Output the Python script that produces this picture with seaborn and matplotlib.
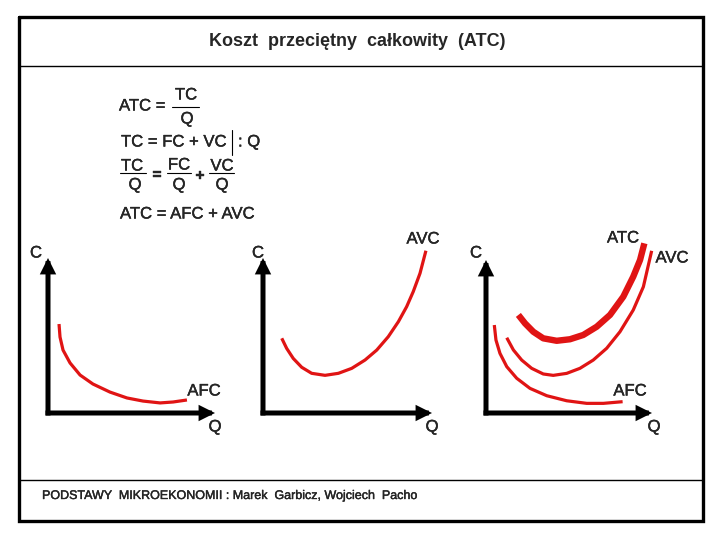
import matplotlib
matplotlib.use("Agg")
import matplotlib.pyplot as plt
import matplotlib.patheffects as pe
import seaborn as sns

sns.set_style("white")
plt.rcParams["font.family"] = ["Liberation Sans", "DejaVu Sans"]

RED = "#e01414"

# ── Curve data (Q, C), axes scaled 0..10 ─────────────────────────────────────
# panel 1: AFC alone
afc1_q = [0.66, 0.72, 0.90, 1.32, 1.92, 2.69, 3.71, 4.73, 5.69, 6.71, 7.49, 8.32]
afc1_c = [5.74, 4.90, 4.06, 3.23, 2.45, 1.87, 1.35, 0.97, 0.77, 0.65, 0.71, 0.84]

# panel 2: AVC alone
avc2_q = [1.11, 1.40, 1.79, 2.29, 2.88, 3.67, 4.46, 5.25, 6.04, 6.73, 7.41, 8.01, 8.50, 8.89, 9.29, 9.64]
avc2_c = [4.82, 4.17, 3.52, 2.95, 2.56, 2.43, 2.56, 2.88, 3.42, 4.06, 4.92, 5.89, 6.86, 7.83, 9.01, 10.47]

# panel 3: AFC, AVC and ATC together
afc3_q = [0.50, 0.60, 0.84, 1.25, 1.85, 2.65, 3.66, 4.86, 6.07, 7.07, 8.23]
afc3_c = [5.75, 4.77, 3.90, 3.03, 2.27, 1.61, 1.13, 0.80, 0.63, 0.63, 0.74]
avc3_q = [1.25, 1.65, 2.15, 2.75, 3.45, 4.05, 4.86, 5.66, 6.46, 7.27, 8.07, 8.87, 9.48, 9.98]
avc3_c = [4.92, 4.12, 3.46, 2.92, 2.55, 2.46, 2.59, 2.92, 3.46, 4.23, 5.31, 6.73, 8.25, 10.60]
atc3_q = [1.95, 2.35, 2.85, 3.45, 4.26, 5.06, 5.86, 6.67, 7.47, 8.27, 8.87, 9.28, 9.54]
atc3_c = [6.41, 5.86, 5.31, 4.88, 4.72, 4.82, 5.10, 5.64, 6.41, 7.60, 8.91, 10.00, 11.09]

fig = plt.figure(figsize=(7.2, 5.4), dpi=100)

# ── slide frame and text (pixel coordinates) ─────────────────────────────────
bg = fig.add_axes([0, 0, 1, 1])
bg.set_xlim(0, 720)
bg.set_ylim(540, 0)
bg.axis("off")

bg.plot([19, 703, 703, 19, 19], [17, 17, 521, 521, 17], color="black", lw=2.4,
        solid_joinstyle="miter")
bg.plot([19, 703], [66, 66], color="black", lw=1.0)
bg.plot([19, 703], [480, 480], color="black", lw=1.0)

heavy = [pe.withStroke(linewidth=0.25, foreground="black")]

bg.text(357, 42, "Koszt  przeciętny  całkowity  (ATC)", ha="center", va="center",
        fontsize=13, fontweight="bold")
bg.text(42, 496, "PODSTAWY  MIKROEKONOMII : Marek  Garbicz, Wojciech  Pacho",
        ha="left", va="center", fontsize=9, path_effects=heavy)

fs = 12
kw = dict(fontsize=fs, va="center", path_effects=heavy)
bg.text(119, 106, "ATC =", ha="left", **kw)
bg.text(186, 95, "TC", ha="center", **kw)
bg.plot([172, 199], [107, 107], color="black", lw=0.8)
bg.text(187, 119, "Q", ha="center", **kw)

bg.text(121, 142, "TC = FC + VC", ha="left", **kw)
bg.plot([232, 232], [130, 155], color="black", lw=0.8)
bg.text(238, 142, ": Q", ha="left", **kw)

bg.text(132, 166, "TC", ha="center", **kw)
bg.plot([120, 146], [173, 173], color="black", lw=0.8)
bg.text(135, 185, "Q", ha="center", **kw)
bg.text(157, 175, "=", ha="center", **kw)
bg.text(179, 165, "FC", ha="center", **kw)
bg.plot([167, 191], [173, 173], color="black", lw=0.8)
bg.text(179, 185, "Q", ha="center", **kw)
bg.text(200, 176, "+", ha="center", **kw)
bg.text(222, 166, "VC", ha="center", **kw)
bg.plot([209, 234], [173, 173], color="black", lw=0.8)
bg.text(222, 185, "Q", ha="center", **kw)

bg.text(120, 214, "ATC = AFC + AVC", ha="left", **kw)


def panel(ox, oy, tip_x, tip_y):
    ax = fig.add_axes([ox / 720, 1 - oy / 540, (tip_x - ox) / 720, (oy - tip_y) / 540])
    ax.set_xlim(0, 10)
    ax.set_ylim(0, 10)
    ax.axis("off")
    arrow = dict(arrowstyle="-|>", lw=3.6, color="black", mutation_scale=15,
                 shrinkA=0, shrinkB=0, capstyle="projecting", joinstyle="miter")
    ax.annotate("", xy=(10, 0), xytext=(0, 0), arrowprops=arrow)
    ax.annotate("", xy=(0, 10), xytext=(0, 0), arrowprops=arrow)
    return ax


def curve(ax, q, c, lw=2.3):
    sns.lineplot(x=q, y=c, ax=ax, color=RED, lw=lw, sort=False, estimator=None,
                 clip_on=False, solid_capstyle="butt", solid_joinstyle="round")


ax1 = panel(48, 413, 215, 258)
curve(ax1, afc1_q, afc1_c)
bg.text(36, 253, "C", ha="center", **kw)
bg.text(215, 427, "Q", ha="center", **kw)
bg.text(204, 391, "AFC", ha="center", **kw)

ax2 = panel(263, 413, 432, 258)
curve(ax2, avc2_q, avc2_c)
bg.text(258, 253, "C", ha="center", **kw)
bg.text(432, 427, "Q", ha="center", **kw)
bg.text(423, 239, "AVC", ha="center", **kw)

ax3 = panel(486, 413, 652, 260)
curve(ax3, afc3_q, afc3_c)
curve(ax3, avc3_q, avc3_c)
curve(ax3, atc3_q, atc3_c, lw=4.6)
bg.text(476, 253, "C", ha="center", **kw)
bg.text(654, 427, "Q", ha="center", **kw)
bg.text(623, 238, "ATC", ha="center", **kw)
bg.text(672, 258, "AVC", ha="center", **kw)
bg.text(630, 391, "AFC", ha="center", **kw)

fig.savefig("out.png", dpi=100)
